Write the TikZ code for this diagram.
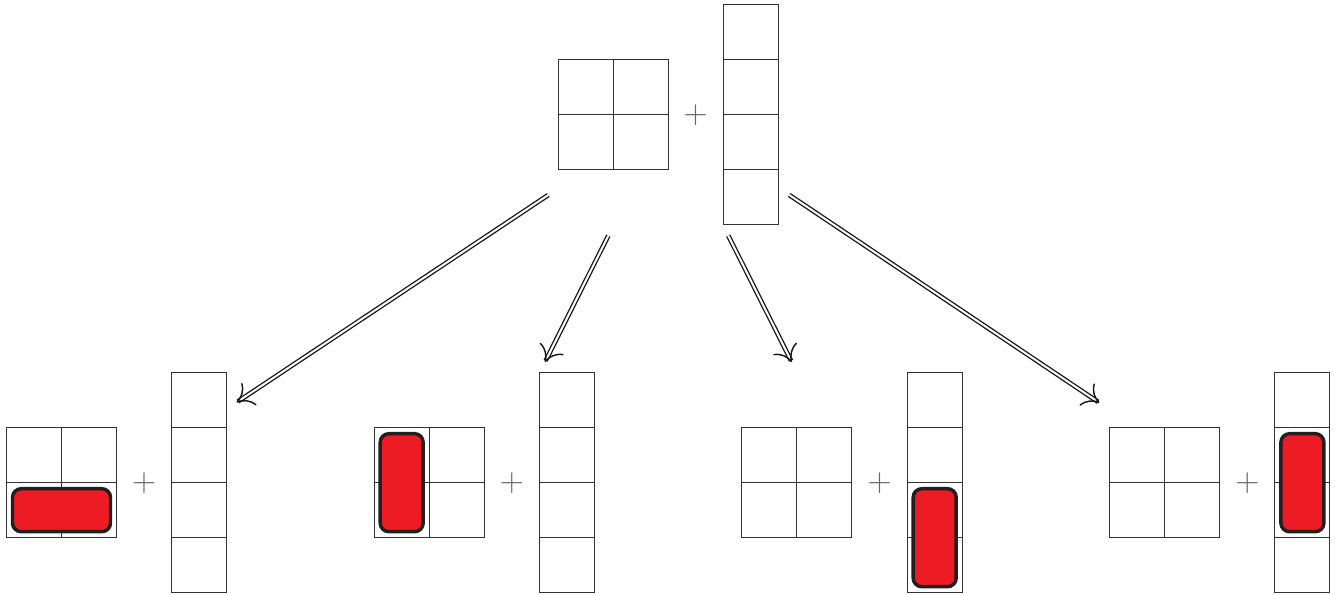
\documentclass[tikz,border=0pt]{standalone}
\usetikzlibrary{arrows.meta}
\definecolor{blkred}{HTML}{ED1C24}
\definecolor{blkedge}{HTML}{231F20}
\begin{document}
\begin{tikzpicture}[x=0.75pt,y=-0.75pt,
  cell/.style={draw=black!80, line width=0.75pt},
  blk/.style={draw=blkedge, fill=blkred, line width=2.6pt, rounded corners=6.5pt},
  plussign/.style={inner sep=0pt, text=black!60, font=\fontsize{25}{25}\selectfont},
  dbl/.style={draw=black!90, double=white, double distance=1.5pt, line width=1pt,
    -{Computer Modern Rightarrow[length=11.5pt,width=20pt,line width=1.1pt]}}
]
\useasboundingbox (0,0) rectangle (1337,595);

\foreach \i/\gx/\gy in {top/558/60, a/6.5/427.7, b/374.2/427.7, c/741.9/427.7, d/1109.6/427.7} {
  % 2x2 grid
  \draw[cell] (\gx,\gy) rectangle ++(110,110);
  \draw[cell] (\gx+55,\gy) -- ++(0,110);
  \draw[cell] (\gx,\gy+55) -- ++(110,0);
  % column of four cells
  \draw[cell] (\gx+165.3,\gy-55) rectangle ++(55,220);
  \foreach \k in {55,110,165} {
    \draw[cell] (\gx+165.3,\gy-55+\k) -- ++(55,0);
  }
  \node[plussign] (plus-\i) at (\gx+137.7,\gy+55) {+};
}

% red blocks
\draw[blk] (12.5,488.7) rectangle (110.5,531.7);
\draw[blk] (380.2,433.7) rectangle (423.2,531.7);
\draw[blk] (913.2,488.7) rectangle (956.2,586.7);
\draw[blk] (1280.9,433.7) rectangle (1323.9,531.7);

% arrows
\coordinate (s1) at (548.3,195);
\coordinate (e1) at (236.7,402.3);
\coordinate (s2) at (608.3,235.7);
\coordinate (e2) at (545,362);
\coordinate (s3) at (728.3,235.7);
\coordinate (e3) at (791.7,362);
\coordinate (s4) at (789.3,195);
\coordinate (e4) at (1099.3,402.7);
\draw[dbl] (s1) -- (e1);
\draw[dbl] (s2) -- (e2);
\draw[dbl] (s3) -- (e3);
\draw[dbl] (s4) -- (e4);
\end{tikzpicture}
\end{document}
